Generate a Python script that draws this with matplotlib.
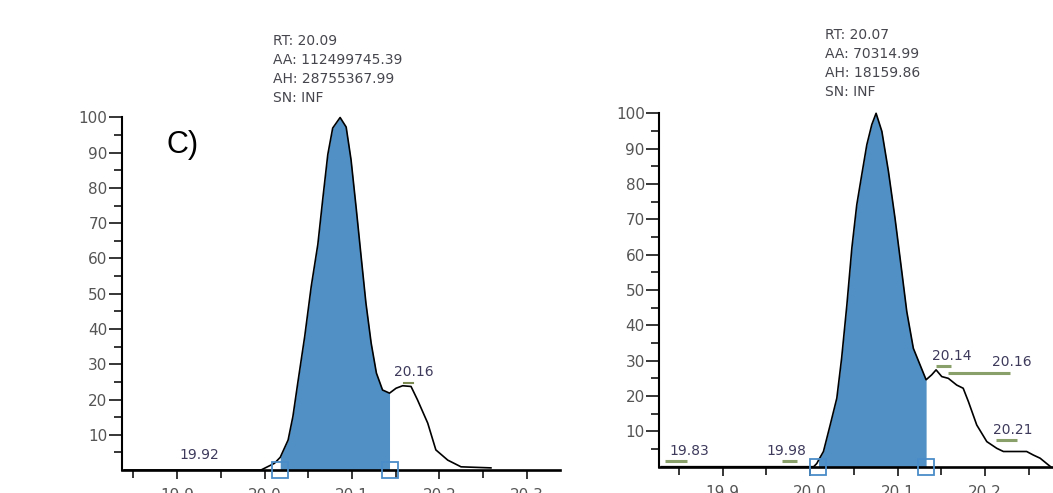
import matplotlib
matplotlib.use("Agg")
import matplotlib.pyplot as plt
import numpy as np

# panel C (left) trace
rt_c = [19.84, 19.996, 20.0114, 20.018, 20.027, 20.0325, 20.038, 20.046, 20.0534, 20.061,
        20.0667, 20.0724, 20.078, 20.0865, 20.0934, 20.099, 20.105, 20.1105, 20.116, 20.122,
        20.128, 20.135, 20.143, 20.1505, 20.158, 20.1676, 20.175, 20.1867, 20.196, 20.2096,
        20.2248, 20.259]
int_c = [0, 0, 1.9, 3.6, 8.5, 15.2, 24.6, 37.9, 52.0, 64.0,
         77.0, 89.5, 97.0, 100, 97.3, 88.0, 74.0, 60.6, 47.4, 36.0,
         27.5, 22.7, 21.8, 23.2, 23.9, 23.7, 19.9, 13.3, 5.7, 2.8,
         0.9, 0.6]
area_c = (20.018, 20.143)
info_c = ["RT: 20.09", "AA: 112499745.39", "AH: 28755367.99", "SN: INF"]
peaks_c = [("19.92", 19.925, 4.3), ("20.16", 20.1705, 27.9)]

# right trace
rt_d = [19.83, 20.004, 20.0076, 20.0095, 20.0152, 20.0229, 20.0305, 20.036, 20.042, 20.0477,
        20.0533, 20.059, 20.0648, 20.0705, 20.0754, 20.082, 20.0895, 20.097, 20.1048, 20.1105,
        20.118, 20.1257, 20.1326, 20.139, 20.144, 20.1505, 20.158, 20.1676, 20.175, 20.181,
        20.1905, 20.202, 20.2134, 20.221, 20.2476, 20.2552, 20.263, 20.2724, 20.275]
int_d = [0, 0, 0.9, 1.8, 4.3, 11.8, 19.4, 30.7, 45.8, 61.9,
         74.1, 82.6, 91.1, 96.8, 100, 94.9, 83.6, 70.4, 55.2, 43.9,
         33.5, 28.8, 24.6, 26.0, 27.4, 25.5, 25.0, 23.1, 22.2, 18.4,
         11.8, 7.1, 5.2, 4.3, 4.3, 3.3, 2.4, 0.5, 0]
area_d = (20.0095, 20.1326)
info_d = ["RT: 20.07", "AA: 70314.99", "AH: 18159.86", "SN: INF"]
# label, text x, text y, underline x0, x1, underline y
peaks_d = [("19.83", 19.862, 4.5, 19.834, 19.859, 1.7),
           ("19.98", 19.9726, 4.5, 19.9676, 19.9848, 1.7),
           ("20.14", 20.162, 31.2, 20.144, 20.161, 28.6),
           ("20.16", 20.2305, 29.5, 20.158, 20.229, 26.6),
           ("20.21", 20.232, 10.4, 20.2126, 20.236, 7.6)]

FILL = "#5190c4"
SQUARE = "#4a8cc8"
TICKCOL = "#555555"
LABCOL = "#3d3a5c"
INFOCOL = "#46464e"
GREEN = "#8aa06a"

W, H = 1053, 493
fig = plt.figure(figsize=(W / 100, H / 100), dpi=100)


def px_rect(x0, x1, y_top, y_bot):
    return [x0 / W, (H - y_bot) / H, (x1 - x0) / W, (y_bot - y_top) / H]


def style_axes(ax, xlim):
    ax.set_xlim(*xlim)
    ax.set_ylim(0, 100)
    for s in ("top", "right"):
        ax.spines[s].set_visible(False)
    ax.spines["left"].set_linewidth(1.5)
    ax.spines["bottom"].set_linewidth(1.9)
    ax.set_yticks(np.arange(10, 101, 10))
    ax.set_yticks(np.arange(5, 100, 10), minor=True)
    ax.set_xticks([19.9, 20.0, 20.1, 20.2, 20.3])
    ax.set_xticklabels(["19.9", "20.0", "20.1", "20.2", "20.3"])
    ax.set_xticks([19.85, 19.95, 20.05, 20.15, 20.25], minor=True)
    ax.tick_params(axis="y", which="major", length=9.4, width=1.1, pad=1,
                   labelsize=11, labelcolor=TICKCOL)
    ax.tick_params(axis="y", which="minor", length=5.8, width=1.1)
    ax.tick_params(axis="x", which="major", length=6.5, width=1.1, pad=6.5,
                   labelsize=11, labelcolor=TICKCOL)
    ax.tick_params(axis="x", which="minor", length=5.8, width=1.1)


def draw_trace(ax, rt, inten, area):
    rt = np.array(rt)
    inten = np.array(inten)
    mask = (rt >= area[0]) & (rt <= area[1])
    ax.fill_between(rt, inten, 0, where=mask, color=FILL, linewidth=0)
    ax.plot(rt, inten, color="black", lw=1.2, clip_on=False, zorder=3)
    ax.plot(list(area), [0, 0], ls="none", marker="s", ms=11.5, mfc="none",
            mec=SQUARE, mew=1.3, clip_on=False, zorder=4)


# left panel
ax1 = fig.add_axes(px_rect(122, 560, 117.5, 470))
style_axes(ax1, (19.837, 20.338))
draw_trace(ax1, rt_c, int_c, area_c)
for lab, x, y in peaks_c:
    ax1.text(x, y, lab, ha="center", va="center", fontsize=10, color=LABCOL)
ax1.plot([20.1597, 20.1696], [24.6, 24.6], color="#7a8a50", lw=1.5)
for i, line in enumerate(info_c):
    fig.text(273 / W, 1 - (41 + 19 * i) / H, line, ha="left", va="center",
             fontsize=10, color=INFOCOL)
fig.text(166 / W, 1 - 153 / H, "C)", ha="left", va="baseline",
         fontsize=22, family="Liberation Sans", color="black")

# right panel
ax2 = fig.add_axes(px_rect(659.3, 1072.5, 113.3, 466.7))
style_axes(ax2, (19.8275, 20.30))
draw_trace(ax2, rt_d, int_d, area_d)
for lab, x, y, u0, u1, uy in peaks_d:
    ax2.text(x, y, lab, ha="center", va="center", fontsize=10, color=LABCOL)
    ax2.plot([u0, u1], [uy, uy], color=GREEN, lw=2.2, solid_capstyle="butt")
for i, line in enumerate(info_d):
    fig.text(825 / W, 1 - (35 + 19 * i) / H, line, ha="left", va="center",
             fontsize=10, color=INFOCOL)

fig.savefig("out.png", dpi=100)
